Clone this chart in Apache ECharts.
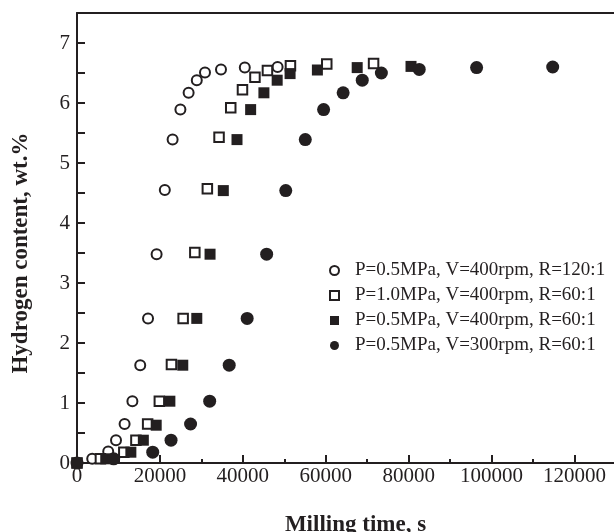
<!DOCTYPE html>
<html>
<head>
<meta charset="utf-8">
<script src="https://cdn.jsdelivr.net/npm/echarts@6/dist/echarts.min.js"></script>
<style>
    html, body { margin: 0; padding: 0; background: #fff; }
    #chart { width: 614px; height: 532px; }
</style>
</head>
<body>
<div id="chart"></div>
<script>
var seriesNames = [
    'P=0.5MPa, V=400rpm, R=120:1',
    'P=1.0MPa, V=400rpm, R=60:1',
    'P=0.5MPa, V=400rpm, R=60:1',
    'P=0.5MPa, V=300rpm, R=60:1'
];

// milling time (s) / hydrogen content (wt.%)
var time1 = [0, 3670, 7530, 9410, 11480, 13360, 15250, 17130, 19200, 21180, 23060, 24940, 26920, 28890, 30870, 34730, 40470, 48380];
var h2_1 = [0, 0.07, 0.19, 0.38, 0.65, 1.03, 1.63, 2.41, 3.48, 4.55, 5.39, 5.89, 6.17, 6.38, 6.51, 6.56, 6.59, 6.60];

var time2 = [0, 5650, 11290, 14210, 17040, 19860, 22780, 25600, 28420, 31440, 34260, 37080, 39910, 42920, 45930, 51480, 60240, 71530];
var h2_2 = [0, 0.07, 0.18, 0.38, 0.65, 1.03, 1.64, 2.41, 3.51, 4.57, 5.43, 5.92, 6.22, 6.43, 6.54, 6.62, 6.65, 6.66];

var time3 = [0, 6930, 12990, 16000, 19100, 22400, 25510, 28890, 32090, 35290, 38590, 41880, 45080, 48280, 51390, 57980, 67580, 80560];
var h2_3 = [0, 0.07, 0.18, 0.38, 0.63, 1.03, 1.63, 2.41, 3.48, 4.54, 5.39, 5.89, 6.17, 6.38, 6.49, 6.55, 6.59, 6.61];

var time4 = [0, 8850, 18260, 22680, 27390, 32000, 36710, 41040, 45740, 50350, 55060, 59480, 64190, 68800, 73410, 82540, 96380, 114730];
var h2_4 = [0, 0.07, 0.18, 0.38, 0.65, 1.03, 1.63, 2.41, 3.48, 4.54, 5.39, 5.89, 6.17, 6.38, 6.50, 6.56, 6.59, 6.60];

var xTicks = [0, 20000, 40000, 60000, 80000, 100000, 120000];
var yTicks = [0, 1, 2, 3, 4, 5, 6, 7];

function pairs(xs, ys) {
    var out = [];
    for (var i = 0; i < xs.length; i++) out.push([xs[i], ys[i]]);
    return out;
}

var ink = '#231f20';
var font = '"Liberation Serif", "Times New Roman", serif';

var chart = echarts.init(document.getElementById('chart'));
chart.setOption({
    animation: false,
    backgroundColor: '#fff',
    grid: {left: 77, right: -2, top: 13, bottom: 69, outerBoundsMode: 'none'},
    legend: {
        orient: 'vertical',
        left: 324,
        top: 256,
        itemWidth: 9,
        itemHeight: 9,
        itemGap: 6,
        data: seriesNames,
        textStyle: {fontFamily: font, fontSize: 19, color: ink, padding: [0, 0, 0, 11]}
    },
    xAxis: [{
        type: 'value',
        min: 0,
        max: 130000,
        interval: 20000,
        name: 'Milling time, s',
        nameLocation: 'middle',
        nameGap: 51,
        nameTextStyle: {fontFamily: font, fontSize: 23, fontWeight: 'bold', color: ink, padding: [0, 0, 0, 18]},
        axisLine: {lineStyle: {color: ink, width: 2}},
        axisTick: {inside: true, length: 8, lineStyle: {color: ink, width: 2}},
        minorTick: {show: true, splitNumber: 2, length: 4, lineStyle: {color: ink, width: 2}},
        splitLine: {show: false},
        axisLabel: {
            fontFamily: font, fontSize: 21, color: ink, margin: 3, showMaxLabel: false,
            formatter: function (v) { return xTicks.indexOf(v) >= 0 ? String(v) : ''; }
        }
    }, {
        type: 'value',
        position: 'top',
        min: 0,
        max: 130000,
        axisLine: {lineStyle: {color: ink, width: 2}},
        axisTick: {show: false},
        axisLabel: {show: false},
        splitLine: {show: false}
    }],
    yAxis: {
        type: 'value',
        min: 0,
        max: 7.5,
        interval: 1,
        name: 'Hydrogen content, wt.%',
        nameLocation: 'middle',
        nameGap: 44,
        nameTextStyle: {fontFamily: font, fontSize: 23, fontWeight: 'bold', color: ink, padding: [0, 30, 0, 0]},
        axisLine: {lineStyle: {color: ink, width: 2}},
        axisTick: {inside: true, length: 8, lineStyle: {color: ink, width: 2}},
        minorTick: {show: true, splitNumber: 2, length: 8, lineStyle: {color: ink, width: 2}},
        splitLine: {show: false},
        axisLabel: {
            fontFamily: font, fontSize: 21, color: ink, margin: 7, showMaxLabel: false,
            formatter: function (v) { return yTicks.indexOf(v) >= 0 ? String(v) : ''; }
        }
    },
    series: [{
        name: seriesNames[0],
        type: 'scatter',
        symbol: 'circle',
        symbolSize: 10,
        clip: false,
        itemStyle: {color: '#fff', borderColor: ink, borderWidth: 2, opacity: 1},
        data: pairs(time1, h2_1)
    }, {
        name: seriesNames[1],
        type: 'scatter',
        symbol: 'rect',
        symbolSize: 9.5,
        clip: false,
        itemStyle: {color: '#fff', borderColor: ink, borderWidth: 2, opacity: 1},
        data: pairs(time2, h2_2)
    }, {
        name: seriesNames[2],
        type: 'scatter',
        symbol: 'rect',
        symbolSize: 11,
        clip: false,
        itemStyle: {color: ink, opacity: 1},
        data: pairs(time3, h2_3)
    }, {
        name: seriesNames[3],
        type: 'scatter',
        symbol: 'circle',
        symbolSize: 13,
        clip: false,
        itemStyle: {color: ink, opacity: 1},
        data: pairs(time4, h2_4)
    }]
});
</script>
</body>
</html>
